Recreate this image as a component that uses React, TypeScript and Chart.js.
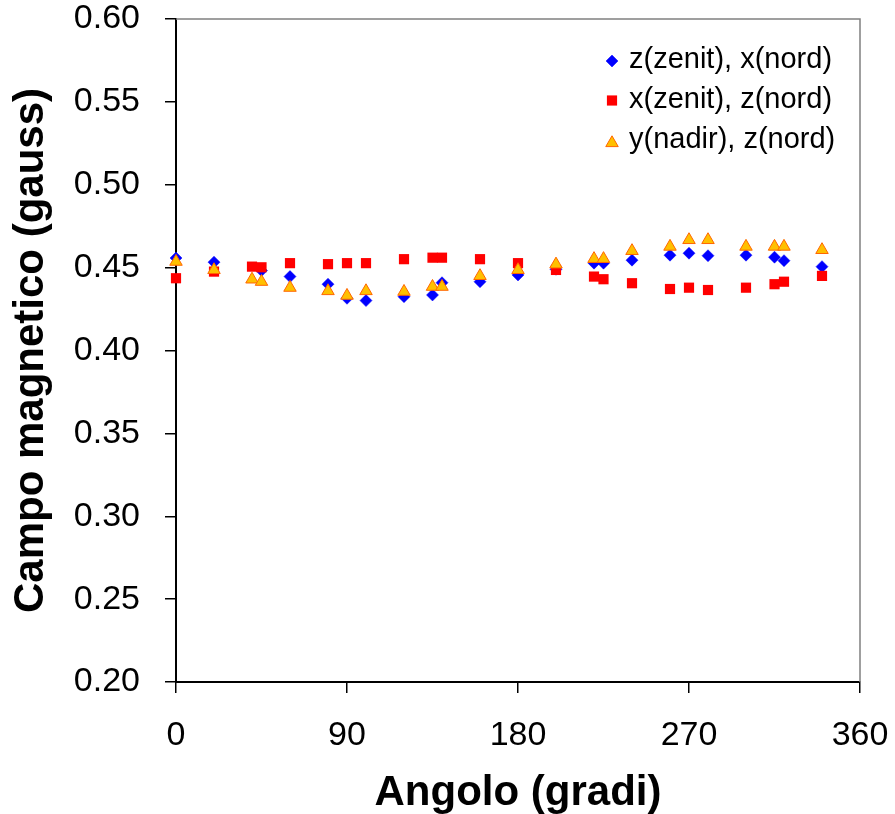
import React, { useEffect, useRef } from 'react';
import { Chart, registerables } from 'chart.js';

Chart.register(...registerables);

// ---- Data ----
const seriesLabels = ['z(zenit), x(nord)', 'x(zenit), z(nord)', 'y(nadir), z(nord)'];

const angoliZX = [0, 20, 45, 60, 80, 90, 100, 120, 135, 140, 160, 180, 200, 220, 225, 240, 260, 270, 280, 300, 315, 320, 340];
const campoZX = [0.4558, 0.4533, 0.4482, 0.4446, 0.4400, 0.4315, 0.4301, 0.4325, 0.4335, 0.4409, 0.4415, 0.4456, 0.4490, 0.4527, 0.4527, 0.4545, 0.4575, 0.4587, 0.4572, 0.4575, 0.4563, 0.4542, 0.4506];

const angoliXZ = [0, 20, 40, 45, 60, 80, 90, 100, 120, 135, 140, 160, 180, 200, 220, 225, 240, 260, 270, 280, 300, 315, 320, 340];
const campoXZ = [0.4436, 0.4476, 0.4506, 0.4502, 0.4527, 0.4521, 0.4527, 0.4527, 0.4551, 0.4560, 0.4560, 0.4551, 0.4527, 0.4486, 0.4446, 0.4430, 0.4406, 0.4371, 0.4379, 0.4365, 0.4379, 0.4400, 0.4415, 0.4450];

const angoliYZ = [0, 20, 40, 45, 60, 80, 90, 100, 120, 135, 140, 160, 180, 200, 220, 225, 240, 260, 270, 280, 300, 315, 320, 340];
const campoYZ = [0.4536, 0.4486, 0.4429, 0.4415, 0.4379, 0.4359, 0.4331, 0.4359, 0.4355, 0.4385, 0.4385, 0.4450, 0.4486, 0.4520, 0.4553, 0.4553, 0.4601, 0.4627, 0.4667, 0.4667, 0.4627, 0.4627, 0.4627, 0.4607];

const xTickValues = [0, 90, 180, 270, 360];
const yMin = 0.2;
const yMax = 0.6;
const yStep = 0.05;

const FONT = "'Liberation Sans', Arial, Helvetica, sans-serif";

const toPoints = (xs: number[], ys: number[]) => xs.map((x, i) => ({ x, y: ys[i] }));

function drawMarker(ctx: CanvasRenderingContext2D, style: string, x: number, y: number, r: number, fill: string, stroke: string, bw: number) {
  ctx.beginPath();
  if (style === 'rectRot') {
    ctx.moveTo(x - r, y);
    ctx.lineTo(x, y - r);
    ctx.lineTo(x + r, y);
    ctx.lineTo(x, y + r);
    ctx.closePath();
  } else if (style === 'rect') {
    const s = Math.SQRT1_2 * r;
    ctx.rect(x - s, y - s, 2 * s, 2 * s);
  } else {
    let a = 0;
    ctx.moveTo(x + Math.sin(a) * r, y - Math.cos(a) * r);
    a += (2 * Math.PI) / 3;
    ctx.lineTo(x + Math.sin(a) * r, y - Math.cos(a) * r);
    a += (2 * Math.PI) / 3;
    ctx.lineTo(x + Math.sin(a) * r, y - Math.cos(a) * r);
    ctx.closePath();
  }
  ctx.fillStyle = fill;
  ctx.fill();
  if (bw > 0) {
    ctx.lineWidth = bw;
    ctx.strokeStyle = stroke;
    ctx.stroke();
  }
}

const framePlugin = {
  id: 'frame',
  beforeDatasetsDraw(chart: any) {
    const { ctx, chartArea } = chart;
    ctx.save();
    ctx.strokeStyle = '#808080';
    ctx.lineWidth = 1.5;
    ctx.beginPath();
    ctx.moveTo(chartArea.left, chartArea.top);
    ctx.lineTo(chartArea.right, chartArea.top);
    ctx.lineTo(chartArea.right, chartArea.bottom);
    ctx.stroke();
    ctx.restore();
  },
};

const legendPlugin = {
  id: 'innerLegend',
  afterDraw(chart: any) {
    const { ctx, chartArea } = chart;
    const ds = chart.data.datasets;
    const mx = chartArea.right - 248;
    const tx = chartArea.right - 231;
    const markerY = [61, 100.5, 143];
    const baseY = [67.5, 107.5, 148];
    ctx.save();
    for (let i = 0; i < ds.length; i++) {
      const d = ds[i];
      drawMarker(ctx, d.pointStyle, mx, markerY[i] + chartArea.top - 19, d.pointRadius, d.backgroundColor, d.borderColor, d.borderWidth);
      ctx.font = `29px ${FONT}`;
      ctx.fillStyle = '#000';
      ctx.textAlign = 'left';
      ctx.textBaseline = 'alphabetic';
      ctx.fillText(d.label, tx, baseY[i] + chartArea.top - 19);
    }
    ctx.restore();
  },
};

const zeroPadding = (s: any) => {
  s.paddingTop = 0;
  s.paddingBottom = 0;
  s.paddingLeft = 0;
  s.paddingRight = 0;
};

export default function App() {
  const canvasRef = useRef<HTMLCanvasElement | null>(null);

  useEffect(() => {
    if (!canvasRef.current) return;
    const chart = new Chart(canvasRef.current, {
      type: 'scatter',
      data: {
        datasets: [
          {
            label: seriesLabels[0],
            data: toPoints(angoliZX, campoZX),
            pointStyle: 'rectRot',
            pointRadius: 6,
            backgroundColor: '#0000FF',
            borderColor: '#0000FF',
            borderWidth: 0.5,
            order: 2,
            clip: false,
          } as any,
          {
            label: seriesLabels[1],
            data: toPoints(angoliXZ, campoXZ),
            pointStyle: 'rect',
            pointRadius: 7.2,
            backgroundColor: '#FF0000',
            borderColor: '#FF0000',
            borderWidth: 0,
            order: 1,
            clip: false,
          } as any,
          {
            label: seriesLabels[2],
            data: toPoints(angoliYZ, campoYZ),
            pointStyle: 'triangle',
            pointRadius: 7.2,
            backgroundColor: '#FFC000',
            borderColor: '#FF6600',
            borderWidth: 1,
            order: 0,
            clip: false,
          } as any,
        ],
      },
      options: {
        responsive: false,
        animation: false,
        events: [],
        layout: { padding: { top: 19, right: 35, left: 0, bottom: 0 } },
        plugins: {
          legend: { display: false },
          tooltip: { enabled: false },
        },
        scales: {
          x: {
            type: 'linear',
            position: 'bottom',
            min: xTickValues[0],
            max: xTickValues[xTickValues.length - 1],
            afterFit: (s: any) => {
              s.height = 132;
              zeroPadding(s);
            },
            afterBuildTicks: (s: any) => {
              s.ticks = xTickValues.map((v) => ({ value: v }));
            },
            ticks: {
              color: '#000',
              font: { family: FONT, size: 34, lineHeight: 1 },
              padding: 26,
              maxRotation: 0,
              autoSkip: false,
            },
            grid: { drawOnChartArea: false, drawTicks: true, tickLength: 11, color: '#000', lineWidth: 1.5 },
            border: { display: true, color: '#000', width: 2 },
            title: {
              display: true,
              text: 'Angolo (gradi)',
              color: '#000',
              font: { family: FONT, size: 42, weight: 'bold', lineHeight: 0.9 },
              padding: { top: 0, bottom: 2 },
            },
          },
          y: {
            type: 'linear',
            position: 'left',
            min: yMin,
            max: yMax,
            afterFit: (s: any) => {
              s.width = 176;
              zeroPadding(s);
            },
            ticks: {
              stepSize: yStep,
              color: '#000',
              font: { family: FONT, size: 34, lineHeight: 1 },
              padding: 25,
              callback: (v: any) => Number(v).toFixed(2),
            },
            grid: { drawOnChartArea: false, drawTicks: true, tickLength: 11, color: '#000', lineWidth: 1.5 },
            border: { display: true, color: '#000', width: 2 },
            title: {
              display: true,
              text: 'Campo magnetico (gauss)',
              color: '#000',
              font: { family: FONT, size: 42, weight: 'bold', lineHeight: 0.9 },
              padding: { top: 13, bottom: 0 },
            },
          },
        },
      } as any,
      plugins: [framePlugin, legendPlugin],
    });
    return () => chart.destroy();
  }, []);

  return (
    <div style={{ position: 'fixed', left: 0, top: 0, width: 895, height: 814, background: '#fff', overflow: 'hidden' }}>
      <canvas ref={canvasRef} width={895} height={814} style={{ display: 'block' }} />
    </div>
  );
}
